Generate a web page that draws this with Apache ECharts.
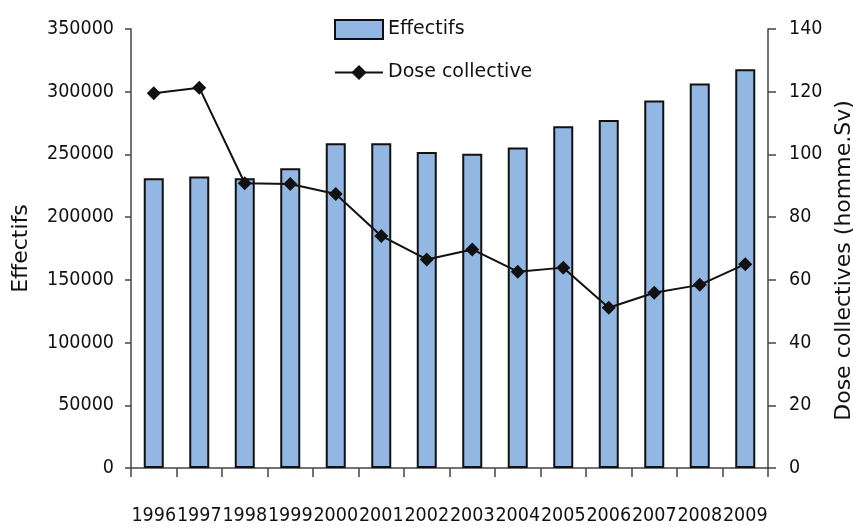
<!DOCTYPE html>
<html>
<head>
<meta charset="utf-8">
<script src="https://cdn.jsdelivr.net/npm/echarts@6/dist/echarts.min.js"></script>
<style>
  html, body { margin: 0; padding: 0; background: #fff; }
  #chart { width: 853px; height: 527px; }
</style>
</head>
<body>
<div id="chart"></div>
<script>
'use strict';

const years = ['1996', '1997', '1998', '1999', '2000', '2001', '2002',
  '2003', '2004', '2005', '2006', '2007', '2008', '2009'];
const effectifs = [231000, 232500, 231000, 239000, 259000, 259000, 252000,
  250500, 255500, 272500, 277500, 293000, 306500, 318000];
const doseCollective = [119.5, 121.3, 90.8, 90.6, 87.4, 74.0, 66.5,
  69.7, 62.6, 63.9, 51.1, 55.9, 58.4, 65.0];

const txtFont = '"DejaVu Sans", sans-serif';
const axisCol = '#444';
// condensed face of DejaVu for the numbers
const numStyle = { fontFamily: txtFont, fontWeight: 'condensed', fontSize: 19.5, color: '#111' };

const chart = echarts.init(document.getElementById('chart'));
chart.setOption({
  backgroundColor: '#fff',
  animation: false,
  grid: { left: 131, right: 85, top: 29, bottom: 59, outerBoundsMode: 'none' },
  legend: {
    orient: 'vertical',
    left: 329,
    top: 14,
    itemWidth: 48,
    itemHeight: 19,
    itemGap: 23,
    textStyle: { fontFamily: txtFont, fontSize: 19, color: '#111' },
    data: [{ name: 'Effectifs', icon: 'rect' }, 'Dose collective'],
  },
  xAxis: {
    type: 'category',
    data: years,
    axisLine: { lineStyle: { color: axisCol, width: 1.5 } },
    axisTick: { show: true, length: 9, lineStyle: { color: axisCol, width: 1.5 } },
    axisLabel: Object.assign({ margin: 38, interval: 0 }, numStyle),
  },
  yAxis: [{
    type: 'value',
    min: 0,
    max: 350000,
    interval: 50000,
    name: 'Effectifs',
    nameLocation: 'middle',
    nameGap: 99,
    nameRotate: 90,
    nameTextStyle: { fontFamily: txtFont, fontSize: 22, color: '#111' },
    splitLine: { show: false },
    axisLine: { show: true, lineStyle: { color: axisCol, width: 1.5 } },
    axisTick: { show: true, length: 6, lineStyle: { color: axisCol, width: 1.5 } },
    axisLabel: Object.assign({ margin: 17, formatter: (v) => String(v) }, numStyle),
  }, {
    type: 'value',
    min: 0,
    max: 140,
    interval: 20,
    name: 'Dose collectives (homme.Sv)',
    nameLocation: 'middle',
    nameGap: 64,
    nameRotate: 90,
    nameTextStyle: { fontFamily: txtFont, fontSize: 22, color: '#111', padding: [0, 24, 0, 0] },
    splitLine: { show: false },
    axisLine: { show: true, lineStyle: { color: axisCol, width: 1.5 } },
    axisTick: { show: true, length: 8, lineStyle: { color: axisCol, width: 1.5 } },
    axisLabel: Object.assign({ margin: 21 }, numStyle),
  }],
  series: [{
    name: 'Effectifs',
    type: 'bar',
    data: effectifs,
    barWidth: 20,
    itemStyle: { color: '#93b7e3', borderColor: '#111', borderWidth: 2 },
  }, {
    name: 'Dose collective',
    type: 'line',
    yAxisIndex: 1,
    data: doseCollective,
    symbol: 'diamond',
    symbolSize: 14,
    lineStyle: { color: '#111', width: 2 },
    itemStyle: { color: '#111' },
  }],
});
</script>
</body>
</html>
